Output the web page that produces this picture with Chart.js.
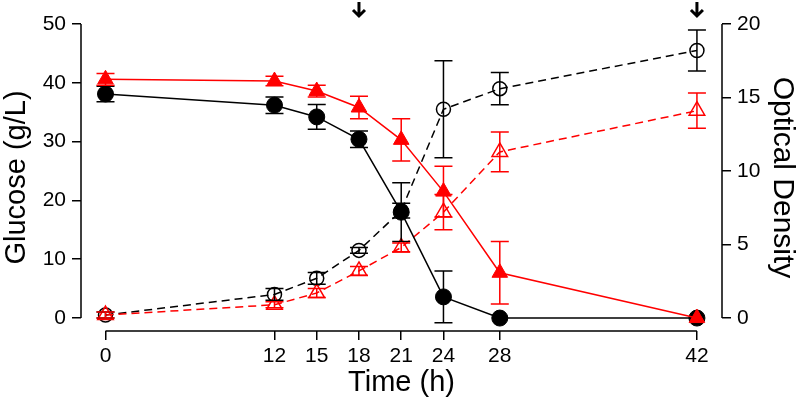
<!DOCTYPE html>
<html>
<head>
<meta charset="utf-8">
<script src="https://cdn.jsdelivr.net/npm/chart.js@4.4.1/dist/chart.umd.min.js"></script>
<style>
  html, body { margin: 0; padding: 0; background: #fff; }
  #wrap { width: 800px; height: 402px; }
</style>
</head>
<body>
<div id="wrap"><canvas id="growthChart" width="800" height="402"></canvas></div>
<script>
'use strict';

// sampling times (h)
var times = [0, 12, 15, 18, 21, 24, 28, 42];
var timeTicks = [0, 12, 15, 18, 21, 24, 28, 42];
var glucoseTicks = [0, 10, 20, 30, 40, 50];
var odTicks = [0, 5, 10, 15, 20];
var arrowTimes = [18, 42];

// glucose (g/L), left axis
var glucoseBlack    = [38.1, 36.2, 34.2, 30.4, 18.0, 3.6, 0, 0];
var glucoseBlackErr = [1.3, 1.4, 2.1, 1.4, 5.0, 4.4, 0, 0];
var glucoseRed      = [40.6, 40.3, 38.6, 35.8, 30.3, 21.5, 7.7, 0];
var glucoseRedErr   = [1.0, 0.8, 1.0, 1.9, 3.6, 4.3, 5.3, 0];

// optical density, right axis
var odBlack    = [0.2, 1.6, 2.7, 4.6, 7.3, 14.2, 15.6, 18.2];
var odBlackErr = [0.2, 0.4, 0.4, 0.2, 0.5, 3.3, 1.1, 1.4];
var odRed      = [0.2, 0.9, 1.7, 3.2, 4.8, 7.2, 11.3, 14.1];
var odRedErr   = [0.2, 0.2, 0.3, 0.3, 0.3, 1.2, 1.35, 1.2];

function toPoints(ys) {
    return times.map(function (t, i) { return { x: t, y: ys[i] }; });
}

// ------------------------------------------------------- //
// error bars, R style axes and arrows
// ------------------------------------------------------ //
var extrasPlugin = {
    id: 'extras',
    afterDatasetsDraw: function (chart) {
        var ctx = chart.ctx;
        chart.data.datasets.forEach(function (ds, di) {
            var meta = chart.getDatasetMeta(di);
            var yScale = chart.scales[ds.yAxisID];
            ctx.save();
            ctx.strokeStyle = ds.borderColor;
            ctx.lineWidth = 1.5;
            meta.data.forEach(function (pt, i) {
                var err = ds.errors[i];
                if (!err) { return; }
                var v = ds.data[i].y;
                var top = yScale.getPixelForValue(v + err);
                var bot = yScale.getPixelForValue(v - err);
                var x = pt.x;
                ctx.beginPath();
                ctx.moveTo(x, top); ctx.lineTo(x, bot);
                ctx.moveTo(x - 9, top); ctx.lineTo(x + 9, top);
                ctx.moveTo(x - 9, bot); ctx.lineTo(x + 9, bot);
                ctx.stroke();
            });
            ctx.restore();
        });
    },
    afterDraw: function (chart) {
        var ctx = chart.ctx;
        var xs = chart.scales.x, yl = chart.scales.yGlucose, yr = chart.scales.yOD;
        ctx.save();
        ctx.strokeStyle = '#000';
        ctx.lineWidth = 1.5;
        ctx.beginPath();
        ctx.moveTo(xs.getPixelForValue(timeTicks[0]), xs.top);
        ctx.lineTo(xs.getPixelForValue(timeTicks[timeTicks.length - 1]), xs.top);
        ctx.moveTo(yl.right, yl.getPixelForValue(glucoseTicks[0]));
        ctx.lineTo(yl.right, yl.getPixelForValue(glucoseTicks[glucoseTicks.length - 1]));
        ctx.moveTo(yr.left, yr.getPixelForValue(odTicks[0]));
        ctx.lineTo(yr.left, yr.getPixelForValue(odTicks[odTicks.length - 1]));
        ctx.stroke();

        // arrows above the plot
        ctx.lineWidth = 3;
        ctx.lineCap = 'butt';
        ctx.lineJoin = 'miter';
        arrowTimes.forEach(function (t) {
            var x = xs.getPixelForValue(t);
            ctx.beginPath();
            ctx.moveTo(x, 2); ctx.lineTo(x, 16);
            ctx.moveTo(x - 6, 10); ctx.lineTo(x, 16); ctx.lineTo(x + 6, 10);
            ctx.stroke();
        });
        ctx.restore();
    }
};

var tickFont = { family: 'Liberation Sans', size: 21 };
var titleFont = { family: 'Liberation Sans', size: 29 };

var chart = new Chart(document.getElementById('growthChart'), {
    type: 'line',
    plugins: [extrasPlugin],
    data: {
        datasets: [{
            label: 'Glucose black',
            data: toPoints(glucoseBlack),
            errors: glucoseBlackErr,
            yAxisID: 'yGlucose',
            order: 1,
            borderColor: '#000',
            backgroundColor: '#000',
            borderWidth: 1.5,
            pointStyle: 'circle',
            pointRadius: 8,
            pointBorderWidth: 1
        }, {
            label: 'Glucose red',
            data: toPoints(glucoseRed),
            errors: glucoseRedErr,
            yAxisID: 'yGlucose',
            order: 0,
            borderColor: '#ff0000',
            backgroundColor: '#ff0000',
            borderWidth: 1.5,
            pointStyle: 'triangle',
            pointRadius: 9,
            pointBorderWidth: 1
        }, {
            label: 'OD black',
            data: toPoints(odBlack),
            errors: odBlackErr,
            yAxisID: 'yOD',
            order: 3,
            borderColor: '#000',
            backgroundColor: '#fff',
            borderWidth: 1.5,
            borderDash: [8, 5],
            pointStyle: 'circle',
            pointRadius: 7,
            pointBorderWidth: 1.5,
            pointBackgroundColor: 'rgba(0,0,0,0)'
        }, {
            label: 'OD red',
            data: toPoints(odRed),
            errors: odRedErr,
            yAxisID: 'yOD',
            order: 2,
            borderColor: '#ff0000',
            backgroundColor: '#fff',
            borderWidth: 1.5,
            borderDash: [8, 5],
            pointStyle: 'triangle',
            pointRadius: 9,
            pointBorderWidth: 1.5,
            pointBackgroundColor: 'rgba(0,0,0,0)'
        }]
    },
    options: {
        responsive: false,
        animation: false,
        clip: false,
        layout: { padding: { top: 24, left: 0, right: 0, bottom: 0 } },
        plugins: {
            legend: { display: false },
            tooltip: { enabled: false }
        },
        scales: {
            x: {
                type: 'linear',
                min: -1.74,
                max: 43.78,
                afterBuildTicks: function (scale) {
                    scale.ticks = timeTicks.map(function (v) { return { value: v }; });
                },
                afterFit: function (scale) { scale.height = 71; },
                grid: { drawOnChartArea: false, drawTicks: true, tickLength: 9, color: '#000', lineWidth: 1.5 },
                border: { display: false },
                ticks: { color: '#000', font: tickFont, padding: 4, maxRotation: 0, autoSkip: false },
                title: { display: true, text: 'Time (h)', color: '#000', font: titleFont, padding: { top: 0, bottom: 2 } }
            },
            yGlucose: {
                type: 'linear',
                position: 'left',
                min: -2.2,
                max: 50,
                afterBuildTicks: function (scale) {
                    scale.ticks = glucoseTicks.map(function (v) { return { value: v }; });
                },
                afterFit: function (scale) { scale.width = 81; },
                grid: { drawOnChartArea: false, drawTicks: true, tickLength: 9, color: '#000', lineWidth: 1.5 },
                border: { display: false },
                ticks: { color: '#000', font: tickFont, padding: 6 },
                title: { display: true, text: 'Glucose (g/L)', color: '#000', font: titleFont, padding: { top: 0, bottom: 0 } }
            },
            yOD: {
                type: 'linear',
                position: 'right',
                min: -0.884,
                max: 20,
                afterBuildTicks: function (scale) {
                    scale.ticks = odTicks.map(function (v) { return { value: v }; });
                },
                afterFit: function (scale) { scale.width = 78; },
                grid: { drawOnChartArea: false, drawTicks: true, tickLength: 9, color: '#000', lineWidth: 1.5 },
                border: { display: false },
                ticks: { color: '#000', font: tickFont, padding: 6 },
                title: { display: true, text: 'Optical Density', color: '#000', font: { family: 'Liberation Sans', size: 30 }, padding: { top: 0, bottom: 0 } }
            }
        }
    }
});
</script>
</body>
</html>
